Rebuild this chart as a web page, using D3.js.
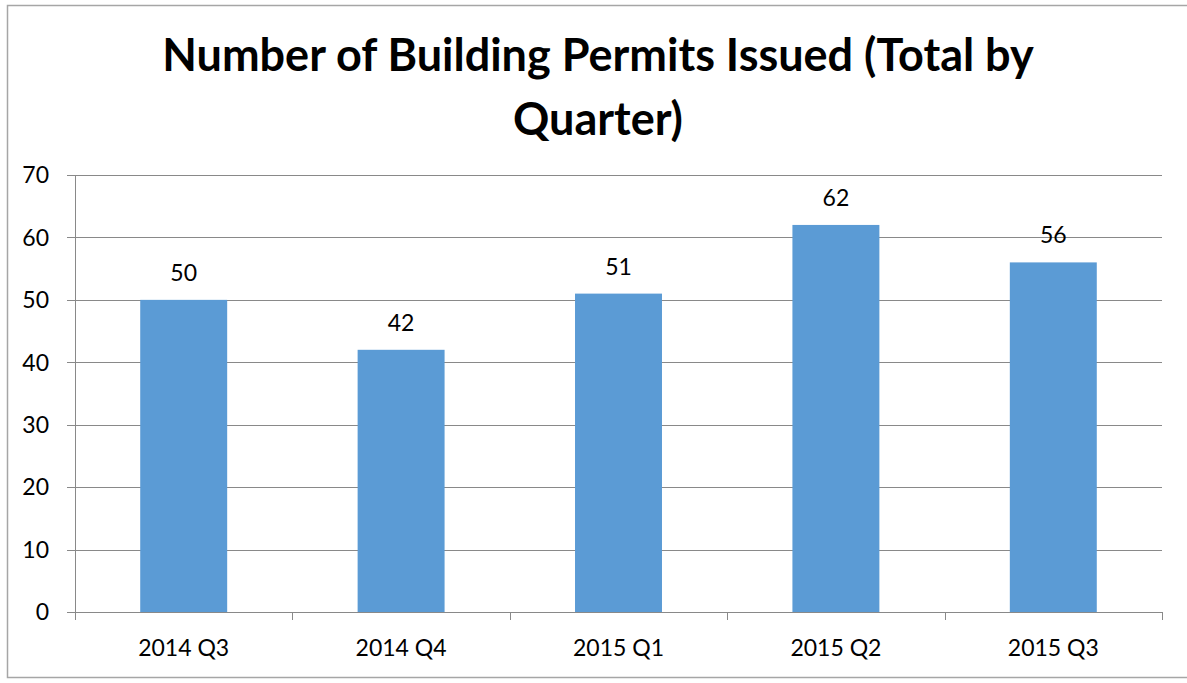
<!DOCTYPE html>
<html>
<head>
<meta charset="utf-8">
<script src="https://cdn.jsdelivr.net/npm/d3@7"></script>
<style>
  body { margin: 0; background: #fff; }
  svg { display: block; font-family: Lato, "Open Sans", sans-serif; }
</style>
</head>
<body>
<div id="chart"></div>
<script>
// datos del gráfico
const quarters = ["2014 Q3", "2014 Q4", "2015 Q1", "2015 Q2", "2015 Q3"];
const permits = [50, 42, 51, 62, 56];
const yTicks = [0, 10, 20, 30, 40, 50, 60, 70];
const titleLines = ["Number of Building Permits Issued (Total by", "Quarter)"];

const width = 1187, height = 683;
const margin = { left: 75, right: 25, top: 175, bottom: 71 };

const svg = d3.select("#chart").append("svg")
    .attr("width", width)
    .attr("height", height);

// marco exterior (abierto por la derecha como en la imagen)
svg.append("rect")
    .attr("x", 7.5).attr("y", 5.5)
    .attr("width", 1200).attr("height", 672)
    .attr("fill", "none")
    .attr("stroke", "#a6a6a6")
    .attr("stroke-width", 1.5);

// título
svg.append("g").selectAll("text")
    .data(titleLines)
    .enter().append("text")
    .attr("x", 598)
    .attr("y", (d, i) => 71 + i * 64)
    .attr("text-anchor", "middle")
    .style("font-size", "45px")
    .style("font-weight", "bold")
    .attr("fill", "#000")
    .text(d => d);

const x = d3.scaleBand()
    .domain(quarters)
    .range([margin.left, width - margin.right])
    .paddingInner(0.6)
    .paddingOuter(0.3);

const y = d3.scaleLinear()
    .domain([0, 70])
    .range([height - margin.bottom, margin.top]);

// líneas de cuadrícula
svg.append("g").selectAll("line")
    .data(yTicks)
    .enter().append("line")
    .attr("x1", margin.left - 8)
    .attr("x2", width - margin.right)
    .attr("y1", d => Math.round(y(d)) + 0.5)
    .attr("y2", d => Math.round(y(d)) + 0.5)
    .attr("stroke", "#898989")
    .attr("stroke-width", 1);

// etiquetas del eje Y
svg.append("g").selectAll("text")
    .data(yTicks)
    .enter().append("text")
    .attr("x", 49)
    .attr("y", d => y(d))
    .attr("dy", "0.36em")
    .attr("text-anchor", "end")
    .style("font-size", "23px")
    .attr("fill", "#000")
    .text(d => d);

// barras
svg.append("g").selectAll("rect")
    .data(permits)
    .enter().append("rect")
    .attr("x", (d, i) => x(quarters[i]))
    .attr("y", d => y(d))
    .attr("width", x.bandwidth())
    .attr("height", d => y(0) - y(d))
    .attr("fill", "#5b9bd5");

// eje Y
svg.append("line")
    .attr("x1", margin.left + 0.5).attr("x2", margin.left + 0.5)
    .attr("y1", y(70)).attr("y2", y(0) + 8)
    .attr("stroke", "#898989");

// marcas del eje X en los límites de cada categoría
const xBounds = d3.range(quarters.length + 1).map(i => margin.left + i * (width - margin.left - margin.right) / quarters.length);
svg.append("g").selectAll("line")
    .data(xBounds)
    .enter().append("line")
    .attr("x1", d => Math.round(d) + 0.5)
    .attr("x2", d => Math.round(d) + 0.5)
    .attr("y1", y(0))
    .attr("y2", y(0) + 8)
    .attr("stroke", "#898989");

// etiquetas del eje X
svg.append("g").selectAll("text")
    .data(quarters)
    .enter().append("text")
    .attr("x", d => x(d) + x.bandwidth() / 2)
    .attr("y", 656)
    .attr("text-anchor", "middle")
    .style("font-size", "23px")
    .attr("fill", "#000")
    .text(d => d);

// etiquetas de valores
svg.append("g").selectAll("text")
    .data(permits)
    .enter().append("text")
    .attr("x", (d, i) => x(quarters[i]) + x.bandwidth() / 2)
    .attr("y", d => y(d) - 19)
    .attr("text-anchor", "middle")
    .style("font-size", "23px")
    .attr("fill", "#000")
    .text(d => d);
</script>
</body>
</html>
